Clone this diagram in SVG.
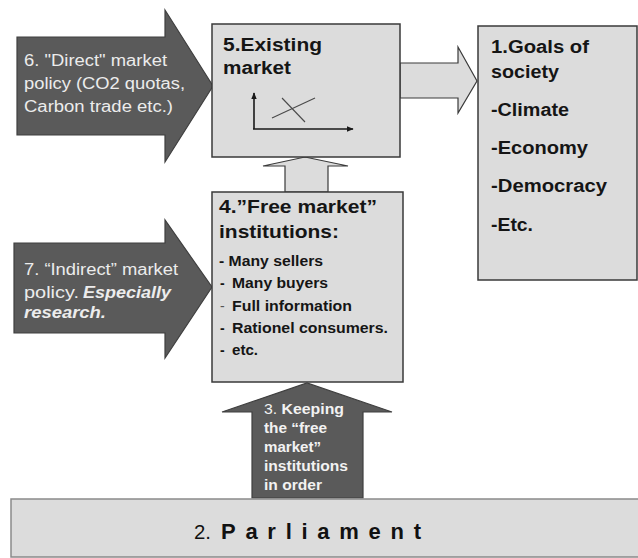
<svg xmlns="http://www.w3.org/2000/svg" width="638" height="558" viewBox="0 0 638 558">
  <defs>
    <style>
      .box { fill: #dcdcdc; stroke: #3a3a3a; stroke-width: 1.5; }
      .dark { fill: #5a5a5a; stroke: #3f3f3f; stroke-width: 1.2; }
      .light { fill: #dcdcdc; stroke: #3a3a3a; stroke-width: 1.2; }
      .t { font-family: "Liberation Sans", Arial, sans-serif; }
      .head { font-size: 18px; font-weight: bold; fill: #151515; }
      .item { font-size: 14px; font-weight: bold; fill: #151515; }
      .wl { font-size: 16px; fill: #ececec; }
      .wb { font-size: 14px; font-weight: bold; fill: #f2f2f2; }
      .axis { stroke: #1a1a1a; stroke-width: 1.6; fill: none; }
      .curve { stroke: #4a4a4a; stroke-width: 1.1; fill: none; }
    </style>
    <marker id="tip" viewBox="0 0 10 10" refX="9" refY="5" markerWidth="7" markerHeight="7" orient="auto" markerUnits="userSpaceOnUse">
      <path d="M0,1 L10,5 L0,9 z" fill="#1a1a1a"/>
    </marker>
  </defs>

  <rect width="638" height="558" fill="#ffffff"/>

  <!-- connectors: block arrows between the boxes -->
  <g id="connectors">
    <polygon class="dark" points="17,37 165,37 165,10 213,86 165,162 165,135 17,135"/>
    <polygon class="dark" points="14,243 165,243 165,220 212,287 165,358 165,333 14,333"/>
    <polygon class="light" points="400,63 458,63 458,47 477,81 458,113 458,98 400,98"/>
    <polygon class="light" points="285,192 285,166 263,166 305,157 348,166 328,166 328,192"/>
    <polygon class="dark" points="252,498 252,412 222,412 307,383 392,412 363,412 363,498"/>
  </g>

  <!-- 6: direct market policy -->
  <g id="direct-policy" class="t wl">
    <text x="24" y="66" textLength="143" lengthAdjust="spacingAndGlyphs">6. "Direct" market</text>
    <text x="24" y="89" textLength="161" lengthAdjust="spacingAndGlyphs">policy (CO2 quotas,</text>
    <text x="24" y="112" textLength="149" lengthAdjust="spacingAndGlyphs">Carbon trade etc.)</text>
  </g>

  <!-- 7: indirect market policy -->
  <g id="indirect-policy" class="t wl">
    <text x="24" y="275" textLength="154" lengthAdjust="spacingAndGlyphs">7. “Indirect” market</text>
    <text x="24" y="298" textLength="55" lengthAdjust="spacingAndGlyphs">policy.</text>
    <text x="83" y="298" font-weight="bold" font-style="italic" textLength="88" lengthAdjust="spacingAndGlyphs">Especially</text>
    <text x="24" y="318" font-weight="bold" font-style="italic" textLength="82" lengthAdjust="spacingAndGlyphs">research.</text>
  </g>

  <!-- 3: keeping institutions in order -->
  <g id="keeping-order" class="t wb">
    <text x="264" y="414" textLength="80" lengthAdjust="spacingAndGlyphs"><tspan font-weight="normal">3.</tspan> Keeping</text>
    <text x="264" y="433" textLength="63" lengthAdjust="spacingAndGlyphs">the “free</text>
    <text x="264" y="452" textLength="57" lengthAdjust="spacingAndGlyphs">market”</text>
    <text x="264" y="471" textLength="84" lengthAdjust="spacingAndGlyphs">institutions</text>
    <text x="264" y="490" textLength="58" lengthAdjust="spacingAndGlyphs">in order</text>
  </g>

  <!-- 5: existing market -->
  <g id="existing-market">
    <rect class="box" x="212" y="24" width="188" height="133"/>
    <text class="t head" x="223" y="51" textLength="99" lengthAdjust="spacingAndGlyphs">5.Existing</text>
    <text class="t head" x="223" y="74" textLength="68" lengthAdjust="spacingAndGlyphs">market</text>
    <line class="axis" x1="254" y1="129" x2="254" y2="93" marker-end="url(#tip)"/>
    <line class="axis" x1="253" y1="129" x2="353" y2="129" marker-end="url(#tip)"/>
    <line class="curve" x1="272" y1="118" x2="315" y2="98"/>
    <line class="curve" x1="282" y1="98" x2="305" y2="122"/>
  </g>

  <!-- 1: goals of society -->
  <g id="goals" class="t head">
    <rect class="box" x="478" y="26" width="159" height="254"/>
    <text x="491" y="53" textLength="98" lengthAdjust="spacingAndGlyphs">1.Goals of</text>
    <text x="491" y="78" textLength="68" lengthAdjust="spacingAndGlyphs">society</text>
    <text x="491" y="116" textLength="78" lengthAdjust="spacingAndGlyphs">-Climate</text>
    <text x="491" y="154" textLength="97" lengthAdjust="spacingAndGlyphs">-Economy</text>
    <text x="491" y="192" textLength="116" lengthAdjust="spacingAndGlyphs">-Democracy</text>
    <text x="491" y="231" textLength="42" lengthAdjust="spacingAndGlyphs">-Etc.</text>
  </g>

  <!-- 4: free market institutions -->
  <g id="institutions">
    <rect class="box" x="212" y="192" width="191" height="190"/>
    <text class="t head" x="219" y="213" textLength="158" lengthAdjust="spacingAndGlyphs">4.”Free market”</text>
    <text class="t head" x="219" y="238" textLength="120" lengthAdjust="spacingAndGlyphs">institutions:</text>
    <g class="t item">
      <text x="219" y="266" textLength="104" lengthAdjust="spacingAndGlyphs">- Many sellers</text>
      <text x="220" y="288">-</text>
      <text x="232" y="288" textLength="96" lengthAdjust="spacingAndGlyphs">Many buyers</text>
      <text x="220" y="311" font-weight="normal" fill="#555">-</text>
      <text x="232" y="311" textLength="120" lengthAdjust="spacingAndGlyphs">Full information</text>
      <text x="220" y="333">-</text>
      <text x="232" y="333" textLength="156" lengthAdjust="spacingAndGlyphs">Rationel consumers.</text>
      <text x="220" y="355">-</text>
      <text x="232" y="355" textLength="26" lengthAdjust="spacingAndGlyphs">etc.</text>
    </g>
  </g>

  <!-- 2: parliament -->
  <g id="parliament">
    <rect x="11" y="499" width="640" height="58" fill="#dcdcdc" stroke="#8a8a8a" stroke-width="1.5"/>
    <text class="t" x="194" y="539" font-size="21" fill="#111" textLength="17" lengthAdjust="spacingAndGlyphs">2.</text>
    <text class="t" x="221" y="539" font-size="22" font-weight="bold" fill="#111" textLength="200" lengthAdjust="spacing">Parliament</text>
  </g>
</svg>
